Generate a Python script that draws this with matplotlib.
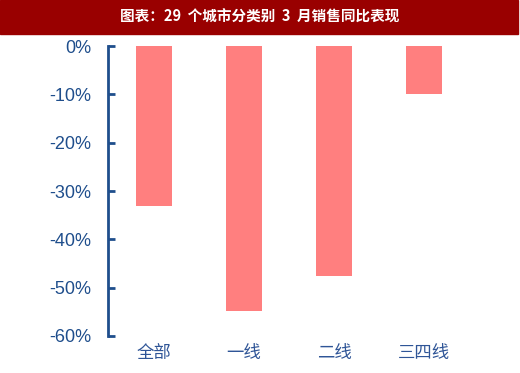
import numpy as np
import matplotlib.pyplot as plt
from matplotlib.patches import Rectangle
from matplotlib.ticker import FuncFormatter

plt.rcParams['font.family'] = ['Noto Sans CJK SC', 'DejaVu Sans']

categories = ['全部', '一线', '二线', '三四线']
values = [-33.1, -54.8, -47.6, -9.9]
title = '图表：29  个城市分类别  3  月销售同比表现'

blue = '#1F4E8C'
fig = plt.figure(figsize=(5.2, 3.73), dpi=100)

# red title banner
fig.patches.append(Rectangle((0, 1 - 34 / 373), 518 / 520, 34 / 373,
                             transform=fig.transFigure, color='#990000', zorder=0))
fig.text(0.5, 1 - 17 / 373, title, color='white', fontsize=10.5, fontweight='bold',
         ha='center', va='center')

ax = fig.add_axes([108 / 520, 37 / 373, 370 / 520, 290 / 373])
x = np.arange(len(categories))
ax.bar(x, values, width=0.4, color='#FF7F7F')

ax.set_xlim(-0.51, 3.6)
ax.set_ylim(-60, 0)
ax.set_yticks(np.arange(-60, 1, 10))
ax.yaxis.set_major_formatter(FuncFormatter(lambda v, p: f'{v:.0f}%'))
ax.set_xticks(x)
ax.set_xticklabels(categories, color='#2F5597', fontsize=12.5)

for s in ['top', 'right', 'bottom']:
    ax.spines[s].set_visible(False)
ax.spines['left'].set_color(blue)
ax.spines['left'].set_linewidth(2)

ax.tick_params(axis='y', direction='in', length=5, width=2, color=blue,
               labelcolor=blue, pad=12)
for t in ax.get_yticklabels():
    t.set_family(['Liberation Sans', 'DejaVu Sans'])
    t.set_fontsize(13)
ax.tick_params(axis='x', length=0, pad=6)

fig.savefig('out.png', dpi=100)
